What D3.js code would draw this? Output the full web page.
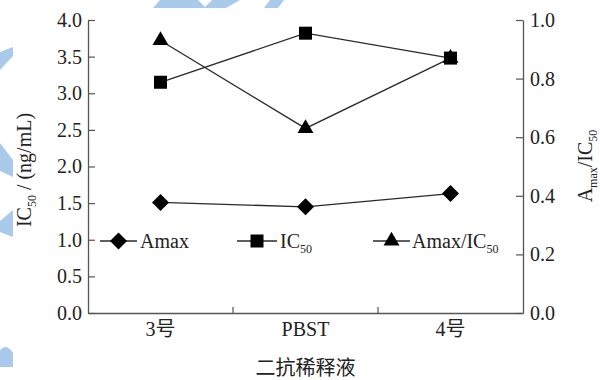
<!DOCTYPE html>
<html>
<head>
<meta charset="utf-8">
<script src="https://cdn.jsdelivr.net/npm/d3@7"></script>
<style>
  body { margin: 0; background: #fff; }
  svg text { font-family: "Liberation Serif", "Noto Sans CJK SC", serif; fill: #222; }
</style>
</head>
<body>
<svg id="chart" width="600" height="380"></svg>
<script>
// Secondary-antibody diluent comparison
const categories = ["3号", "PBST", "4号"];
const amaxValues = [1.51, 1.45, 1.63];   // left axis
const ic50Values = [3.15, 3.82, 3.48];   // left axis, ng/mL
const ratioValues = [0.93, 0.63, 0.87];  // right axis, Amax/IC50
const leftTicks = [0, 0.5, 1.0, 1.5, 2.0, 2.5, 3.0, 3.5, 4.0];
const rightTicks = [0, 0.2, 0.4, 0.6, 0.8, 1.0];
const xTitle = "二抗稀释液";

const svg = d3.select("#chart");
const W = 600, H = 380;
const m = { left: 88, right: 77, top: 20, bottom: 67 };
const plotL = m.left, plotR = W - m.right, plotT = m.top, plotB = H - m.bottom;

// faint decorative background marks
const bg = svg.append("g").attr("fill", "#aacaeb");
const bgShapes = [
  [[160,0],[198,0],[205,7],[212,0],[240,0],[226,8],[153,8]],
  [[270,0],[284,0],[278,8],[264,8]],
  [[0,52],[13,47],[13,56],[0,70]],
  [[0,143],[13,160],[13,177],[0,171]],
  [[0,221],[13,210],[13,237],[0,232]]
];
bgShapes.forEach(p => bg.append("path").attr("d", d3.line()(p) + "Z"));
bg.append("path").attr("d", "M0,367 L0,350 Q6,343 13,353 L13,367 Z");

const x = d3.scaleBand().domain(categories).range([plotL, plotR]).paddingInner(0).paddingOuter(0);
const yL = d3.scaleLinear().domain([0, 4]).range([plotB, plotT]);
const yR = d3.scaleLinear().domain([0, 1]).range([plotB, plotT]);
const cx = c => x(c) + x.bandwidth() / 2;

const axisColor = "#555";
function styleAxis(g) {
  g.selectAll("path.domain").attr("stroke", axisColor).attr("stroke-width", 1.3);
  g.selectAll(".tick line").attr("stroke", axisColor).attr("stroke-width", 1.2);
  g.selectAll(".tick text").attr("fill", "#222")
    .style("font-family", "'Liberation Serif','Noto Sans CJK SC',serif");
}

// left axis
svg.append("g").attr("transform", `translate(${plotL},0)`)
  .call(d3.axisLeft(yL).tickValues(leftTicks).tickFormat(d3.format(".1f"))
    .tickSizeInner(-7).tickSizeOuter(0).tickPadding(6))
  .call(g => g.selectAll(".tick text").attr("font-size", 20))
  .call(styleAxis);

// right axis
svg.append("g").attr("transform", `translate(${plotR},0)`)
  .call(d3.axisRight(yR).tickValues(rightTicks).tickFormat(d3.format(".1f"))
    .tickSizeInner(-7).tickSizeOuter(0).tickPadding(7))
  .call(g => g.selectAll(".tick text").attr("font-size", 20))
  .call(styleAxis);

// bottom axis: category labels centred in bands, ticks on band boundaries
svg.append("g").attr("transform", `translate(0,${plotB})`)
  .call(d3.axisBottom(x).tickSize(0).tickPadding(9))
  .call(g => g.selectAll(".tick text").attr("font-size", 20))
  .call(styleAxis);
svg.append("g").selectAll("line")
  .data(categories.slice(1))
  .join("line")
  .attr("x1", d => x(d)).attr("x2", d => x(d))
  .attr("y1", plotB).attr("y2", plotB - 6)
  .attr("stroke", axisColor).attr("stroke-width", 1.2);

// axis titles
svg.append("text")
  .attr("x", (plotL + plotR) / 2).attr("y", 375)
  .attr("text-anchor", "middle").attr("font-size", 20)
  .style("font-family", "'Noto Sans CJK SC',sans-serif")
  .text(xTitle);

const lt = svg.append("text")
  .attr("transform", "translate(31,170) rotate(-90)")
  .attr("text-anchor", "middle").attr("font-size", 20);
lt.append("tspan").text("IC");
lt.append("tspan").attr("font-size", 12).attr("dy", 5).text("50");
lt.append("tspan").attr("dy", -5).text(" / (ng/mL)");

const rt = svg.append("text")
  .attr("transform", "translate(592,166) rotate(-90)")
  .attr("text-anchor", "middle").attr("font-size", 20);
rt.append("tspan").text("A");
rt.append("tspan").attr("font-size", 12).attr("dy", 5).text("max");
rt.append("tspan").attr("dy", -5).text("/IC");
rt.append("tspan").attr("font-size", 12).attr("dy", 5).text("50");

// series
const lineColor = "#2a2a2a";
const series = [
  { name: "Amax", values: amaxValues, y: yL, symbol: d3.symbolSquare, size: 144, rot: 45 },
  { name: "IC50", values: ic50Values, y: yL, symbol: d3.symbolSquare, size: 169, rot: 0 },
  { name: "Amax/IC50", values: ratioValues, y: yR, symbol: d3.symbolTriangle, size: 110, rot: 0 }
];

series.forEach(s => {
  const pts = categories.map((c, i) => [cx(c), s.y(s.values[i])]);
  svg.append("path")
    .attr("d", d3.line()(pts))
    .attr("fill", "none").attr("stroke", lineColor).attr("stroke-width", 1.3);
  svg.append("g").selectAll("path")
    .data(pts).join("path")
    .attr("d", d3.symbol(s.symbol, s.size)())
    .attr("transform", d => `translate(${d[0]},${d[1]}) rotate(${s.rot})`)
    .attr("fill", "#000");
});

// legend
const legendY = 241;
const legendItems = [
  { s: series[0], x0: 100, x1: 137, tx: 140, parts: [["Amax", false]] },
  { s: series[1], x0: 237, x1: 277, tx: 280, parts: [["IC", false], ["50", true]] },
  { s: series[2], x0: 373, x1: 410, tx: 412, parts: [["Amax/IC", false], ["50", true]] }
];
legendItems.forEach(it => {
  const g = svg.append("g");
  g.append("line").attr("x1", it.x0).attr("x2", it.x1)
    .attr("y1", legendY).attr("y2", legendY)
    .attr("stroke", lineColor).attr("stroke-width", 1.3);
  g.append("path")
    .attr("d", d3.symbol(it.s.symbol, it.s.size)())
    .attr("transform", `translate(${(it.x0 + it.x1) / 2},${legendY}) rotate(${it.s.rot})`)
    .attr("fill", "#000");
  const t = g.append("text").attr("x", it.tx).attr("y", legendY + 7).attr("font-size", 20);
  it.parts.forEach(([txt, sub]) => {
    if (sub) t.append("tspan").attr("font-size", 12).attr("dy", 5).text(txt);
    else t.append("tspan").text(txt);
  });
});
</script>
</body>
</html>
